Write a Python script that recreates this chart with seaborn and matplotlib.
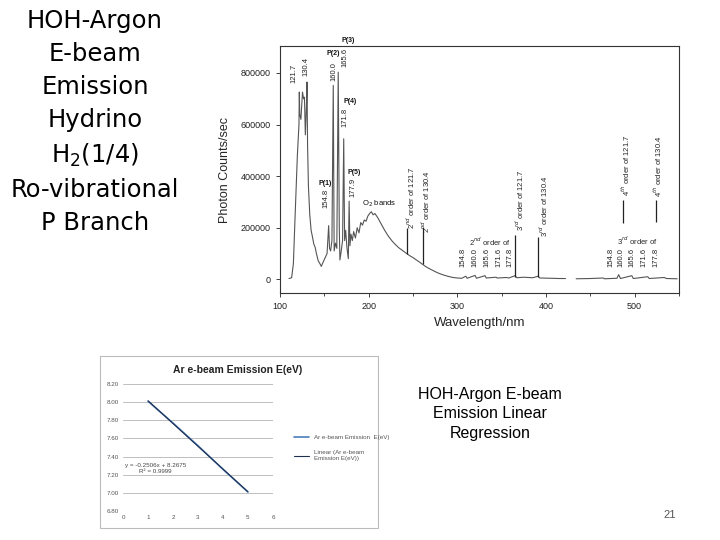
import numpy as np
import pandas as pd
import matplotlib
matplotlib.use("Agg")
import matplotlib.pyplot as plt
import seaborn as sns
from matplotlib.patches import Rectangle
from matplotlib.ticker import MultipleLocator

# --- spectrum ---
wl_a = [110, 113, 115, 117, 119.5, 121.3, 121.7, 122.2, 123.5, 125.3, 126.5, 127.5, 128.5, 129.8,
        130.4, 131.0, 132, 133.5, 135, 136.5, 138, 139.5, 141, 143, 145, 146.5, 148.5, 151, 153,
        154.8, 155.8, 157, 158.5, 160.0, 161.0, 162.5, 164, 165.6, 166.8, 167.5, 169, 170.5,
        171.8, 172.8, 174, 175.5, 177, 177.9, 178.8, 180, 181.5, 183, 185, 187, 189, 191, 193,
        195, 197, 199, 201, 203, 205, 207, 210, 214, 218, 222, 226, 230, 234, 238, 242, 246,
        250, 255, 260, 264, 268, 272, 276, 280, 285, 290, 295, 300, 305, 309.6, 311, 320,
        321.5, 331.2, 332.5, 343.6, 345, 355.6, 358, 365.1, 367, 375, 385, 391.2, 393, 405,
        415, 422]
cnt_a = [3000, 6000, 60000, 250000, 480000, 600000, 726000, 640000, 620000, 726000, 700000,
         706000, 560000, 680000, 765000, 520000, 360000, 250000, 190000, 165000, 137000, 125000,
         100000, 72000, 60000, 50000, 66000, 85000, 100000, 208000, 120000, 110000, 150000,
         752000, 110000, 140000, 120000, 803000, 200000, 75000, 110000, 150000, 545000, 150000,
         190000, 120000, 80000, 303000, 130000, 175000, 150000, 185000, 160000, 200000, 180000,
         220000, 210000, 230000, 225000, 245000, 255000, 262000, 250000, 255000, 240000, 215000,
         190000, 168000, 150000, 135000, 122000, 112000, 102000, 92000, 84000, 72000, 60000,
         50000, 42000, 35000, 28000, 22000, 16000, 11000, 7000, 5000, 4000, 12000, 4000, 15000,
         4000, 14000, 5000, 8000, 5000, 7000, 5000, 14000, 6000, 8000, 6000, 12000, 5000, 4000,
         3000, 3000]
wl_b = [434, 450, 464.4, 466, 480, 482, 484, 496.8, 498.5, 514.8, 516.5, 533.4, 536, 548]
cnt_b = [2000, 3000, 5000, 2000, 4000, 18000, 3000, 14000, 3000, 10000, 3000, 7000, 3000, 2000]

# order marker lines: wavelength, bottom, top
mark_x = [243.4, 260.8, 365.3, 391.2, 486.8, 524.0]
mark_lo = [100000, 59000, 8000, 8000, 217000, 221000]
mark_hi = [200000, 202000, 171000, 163000, 307000, 307000]

# --- inset regression data ---
ar_x = [1, 2, 3, 4, 5]
ar_e = [8.01, 7.77, 7.52, 7.26, 7.01]

sns.set_style("ticks")
plt.rcParams['font.family'] = ['Liberation Sans', 'DejaVu Sans']

fig = plt.figure(figsize=(7.2, 5.4), dpi=100)

# ---------- main spectrum ----------
ax = fig.add_axes([0.389, 0.457, 0.554, 0.458])
sns.lineplot(x=wl_a, y=cnt_a, ax=ax, color='#555555', lw=0.8, sort=False, estimator=None)
sns.lineplot(x=wl_b, y=cnt_b, ax=ax, color='#555555', lw=0.8, sort=False, estimator=None)
ax.vlines(mark_x, mark_lo, mark_hi, color='#222222', lw=0.9)

ax.set_xlim(100, 550)
ax.set_ylim(-54000, 905000)
ax.set_xticks([100, 200, 300, 400, 500])
ax.xaxis.set_minor_locator(MultipleLocator(50))
ax.set_yticks([0, 200000, 400000, 600000, 800000])
ax.ticklabel_format(axis='y', style='plain')
ax.tick_params(labelsize=6.5, length=3, width=0.6, colors='#222222')
ax.tick_params(which='minor', length=2, width=0.6)
for s in ax.spines.values():
    s.set_visible(True)
    s.set_color('#333333')
    s.set_linewidth(0.8)
ax.set_xlabel("Wavelength/nm", fontsize=9.5, labelpad=4)
ax.set_ylabel("Photon Counts/sec", fontsize=9, labelpad=7)

lab = dict(fontsize=5.5, rotation=90, ha='center', va='center', color='#222222')
ax.text(115.8, 800000, "121.7", **lab)
ax.text(129.4, 827000, "130.4", **lab)
ax.text(161.0, 804000, "160.0", **lab)
ax.text(173.4, 862000, "165.6", **lab)
ax.text(173.4, 629000, "171.8", **lab)
ax.text(152.0, 314000, "154.8", **lab)
ax.text(182.5, 357000, "177.9", **lab)
pk = dict(fontsize=5, ha='center', va='center', fontweight='bold', color='#111111')
ax.text(176.8, 926000, "P(3)", clip_on=False, **pk)
ax.text(160.0, 877000, "P(2)", **pk)
ax.text(179.0, 691000, "P(4)", **pk)
ax.text(150.8, 373000, "P(1)", **pk)
ax.text(183.6, 415000, "P(5)", **pk)
ax.text(212, 291000, "O$_2$ bands", fontsize=5.5, ha='center', va='center', color='#111111')
ax.text(247.0, 318000, "2$^{nd}$ order of 121.7", **lab)
ax.text(264.0, 300000, "2$^{nd}$ order of 130.4", **lab)
ax.text(371.0, 307000, "3$^{rd}$ order of 121.7", **lab)
ax.text(397.0, 283000, "3$^{rd}$ order of 130.4", **lab)
ax.text(489.8, 443000, "4$^{th}$ order of 121.7", **lab)
ax.text(526.0, 439000, "4$^{th}$ order of 130.4", **lab)
ax.text(337, 147000, "2$^{nd}$ order of", fontsize=5.5, ha='center', va='center')
ax.text(503, 151000, "3$^{rd}$ order of", fontsize=5.5, ha='center', va='center')
sub_labels = ["154.8", "160.0", "165.6", "171.6", "177.8"]
for xx, t in zip([306.4, 319.5, 333.5, 346.5, 359.8], sub_labels):
    ax.text(xx, 85000, t, **lab)
for xx, t in zip([473.7, 484.2, 497.4, 510.5, 523.7], sub_labels):
    ax.text(xx, 85000, t, **lab)

# ---------- slide text ----------
fig.text(95 / 720, 1 - 9 / 540,
         "HOH-Argon\nE-beam\nEmission\nHydrino\nH$_2$(1/4)\nRo-vibrational\nP Branch",
         family='DejaVu Sans', fontsize=17.5, ha='center', va='top', linespacing=1.47,
         color='black')
fig.text(490 / 720, 1 - 414 / 540, "HOH-Argon E-beam\nEmission Linear\nRegression",
         fontsize=11.5, ha='center', va='center', linespacing=1.4, color='black')
fig.text(670 / 720, 1 - 515 / 540, "21", fontsize=8, ha='center', va='center', color='#555555')

# ---------- inset regression chart ----------
fig.patches.append(Rectangle((100 / 720, 1 - 528 / 540), 278 / 720, 172 / 540,
                             transform=fig.transFigure, fill=True, facecolor='white',
                             edgecolor='#bbbbbb', lw=0.8, zorder=-5))
ax2 = fig.add_axes([0.171, 0.0537, 0.208, 0.235])
ax2.set_facecolor('none')
sns.lineplot(x=ar_x, y=ar_e, ax=ax2, color='#4a7ebb', lw=1.2,
             label="Ar e-beam Emission  E(eV)")
coef = np.polyfit(ar_x, ar_e, 1)
ax2.plot(ar_x, np.polyval(coef, ar_x), color='#1f2f4f', lw=0.8,
         label="Linear (Ar e-beam\nEmission E(eV))")
ax2.set_xlim(0, 6)
ax2.set_ylim(6.8, 8.2)
ax2.set_xticks(range(7))
ax2.set_yticks(np.arange(6.8, 8.21, 0.2))
ax2.set_yticklabels([f"{v:.2f}" for v in np.arange(6.8, 8.21, 0.2)])
ax2.tick_params(labelsize=4.5, length=0, colors='#555555', pad=3)
ax2.grid(axis='y', color='#bfbfbf', lw=0.7)
for s in ax2.spines.values():
    s.set_visible(False)
ax2.text(1.3, 7.27, "y = -0.2506x + 8.2675\nR² = 0.9999", fontsize=4.5,
         ha='center', va='center', color='#444444')
fig.text(238 / 720, 1 - 370 / 540, "Ar e-beam Emission E(eV)", fontsize=7.5,
         fontweight='bold', ha='center', va='center', color='#222222')
ax2.legend(loc='center left', bbox_to_anchor=(288 / 720, 1 - 448 / 540),
           bbox_transform=fig.transFigure, frameon=False, fontsize=4.5,
           handlelength=2.5, labelspacing=1.6, labelcolor='#555555')

fig.savefig("out.png", dpi=100)
